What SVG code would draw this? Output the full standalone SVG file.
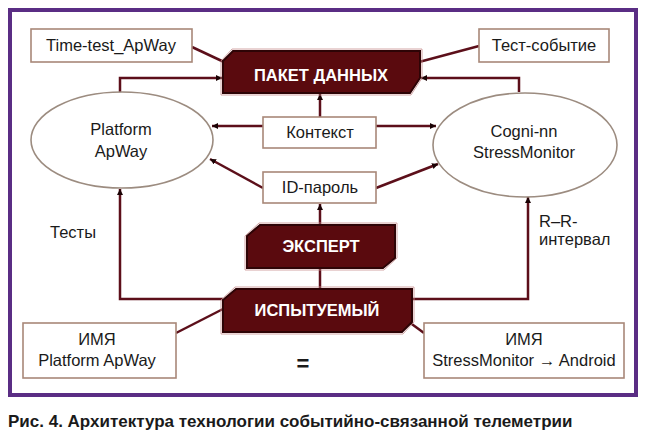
<svg xmlns="http://www.w3.org/2000/svg" width="646" height="441" viewBox="0 0 646 441">
<style>
.frame{fill:#fff;stroke:#5a2d84;stroke-width:4}
.box{fill:#fff;stroke:#a88878;stroke-width:1.6}
.ell{fill:#fff;stroke:#9c8c80;stroke-width:1.6}
.blk{fill:#5a0a0e;stroke:#2e0406;stroke-width:2}
.blk2{fill:none;stroke:#c89090;stroke-width:0.8}
.t{font-family:"Liberation Sans",Arial,sans-serif;font-size:16.5px;fill:#1a1a1a;text-anchor:middle}
.tl{font-family:"Liberation Sans",Arial,sans-serif;font-size:16.5px;fill:#1a1a1a}
.tb{font-family:"Liberation Sans",Arial,sans-serif;font-size:16.5px;font-weight:bold;fill:#fff;text-anchor:middle}
.cap{font-family:"Liberation Sans",Arial,sans-serif;font-size:17px;font-weight:bold;fill:#1a1a1a}
.c{fill:none;stroke:#5c0f1a;stroke-width:2.5;stroke-linejoin:miter}
</style>
<defs>
<marker id="ah" markerUnits="userSpaceOnUse" markerWidth="8" markerHeight="8" refX="6" refY="3" orient="auto">
<path d="M0,0 L6,3 L0,6 Z" fill="#1a0204"/>
</marker>
</defs>
<rect class="frame" x="10" y="10" width="626" height="385"/>

<g id="connectors">
<line class="c" x1="192" y1="47" x2="224" y2="62"/>
<line class="c" x1="479" y1="46" x2="419" y2="62"/>
<polyline class="c" points="120,93 120,78 222,78" marker-end="url(#ah)"/>
<polyline class="c" points="519,92 519,78 421,78" marker-end="url(#ah)"/>
<line class="c" x1="320" y1="117" x2="320" y2="94" marker-end="url(#ah)"/>
<line class="c" x1="263" y1="126" x2="212" y2="126" marker-end="url(#ah)"/>
<line class="c" x1="376" y1="126" x2="436" y2="126" marker-end="url(#ah)"/>
<line class="c" x1="263" y1="188" x2="210" y2="159" marker-end="url(#ah)"/>
<line class="c" x1="376" y1="188" x2="438" y2="164" marker-end="url(#ah)"/>
<line class="c" x1="320" y1="225" x2="320" y2="204" marker-end="url(#ah)"/>
<line class="c" x1="320" y1="268" x2="320" y2="289"/>
<polyline class="c" points="223,299 120,299 120,189" marker-end="url(#ah)"/>
<polyline class="c" points="412,299 528,299 528,197" marker-end="url(#ah)"/>
<line class="c" x1="223" y1="309" x2="176" y2="333"/>
<line class="c" x1="409" y1="322" x2="424" y2="333"/>
</g>

<g id="time-test">
<rect class="box" x="31" y="29" width="161" height="33"/>
<text class="t" x="111" y="51">Time-test_ApWay</text>
</g>
<g id="test-event">
<rect class="box" x="479" y="29" width="130" height="33"/>
<text class="t" x="544" y="51">Тест-событие</text>
</g>
<g id="packet">
<path class="blk" d="M233,51 L420,51 L420,78 L410,93 L223,93 L223,61 Z"/>
<path class="blk2" d="M232,49 L422,49 L422,78 L411,95 L221,95 L221,61 Z"/>
<text class="tb" x="321" y="81">ПАКЕТ ДАННЫХ</text>
</g>
<g id="platform">
<ellipse class="ell" cx="122" cy="140" rx="91" ry="48"/>
<text class="t" x="121" y="135">Platform</text>
<text class="t" x="121" y="157">ApWay</text>
</g>
<g id="cogni">
<ellipse class="ell" cx="525" cy="145" rx="92" ry="52"/>
<text class="t" x="524" y="137">Cogni-nn</text>
<text class="t" x="524" y="158">StressMonitor</text>
</g>
<g id="context">
<rect class="box" x="263" y="117" width="113" height="31"/>
<text class="t" x="320" y="138">Контекст</text>
</g>
<g id="idpass">
<rect class="box" x="263" y="172" width="113" height="31"/>
<text class="t" x="320" y="193">ID-пароль</text>
</g>
<g id="expert">
<path class="blk" d="M260,225 L395,225 L395,258 L383,268 L247,268 L247,236 Z"/>
<path class="blk2" d="M259,223 L397,223 L397,258 L384,270 L245,270 L245,236 Z"/>
<text class="tb" x="321" y="252">ЭКСПЕРТ</text>
</g>
<g id="subject">
<path class="blk" d="M236,289 L412,289 L412,322 L402,332 L223,332 L223,300 Z"/>
<path class="blk2" d="M235,287 L414,287 L414,322 L403,334 L221,334 L221,300 Z"/>
<text class="tb" x="317" y="316">ИСПЫТУЕМЫЙ</text>
</g>
<g id="name-platform">
<rect class="box" x="23" y="323" width="153" height="55"/>
<text class="t" x="97" y="345">ИМЯ</text>
<text class="t" x="97" y="366">Platform ApWay</text>
</g>
<g id="name-stress">
<rect class="box" x="424" y="323" width="200" height="55"/>
<text class="t" x="524" y="345">ИМЯ</text>
<text class="t" x="524" y="366">StressMonitor → Android</text>
</g>
<g id="labels">
<text class="tl" x="50" y="238">Тесты</text>
<text class="tl" x="539" y="227">R–R-</text>
<text class="tl" x="539" y="245">интервал</text>
<text x="303" y="371" style="font-family:'Liberation Sans',Arial,sans-serif;font-size:22px;font-weight:bold;fill:#1a1a1a;text-anchor:middle">=</text>
</g>
<text class="cap" x="8" y="427">Рис. 4. Архитектура технологии событийно-связанной телеметрии</text>
</svg>
